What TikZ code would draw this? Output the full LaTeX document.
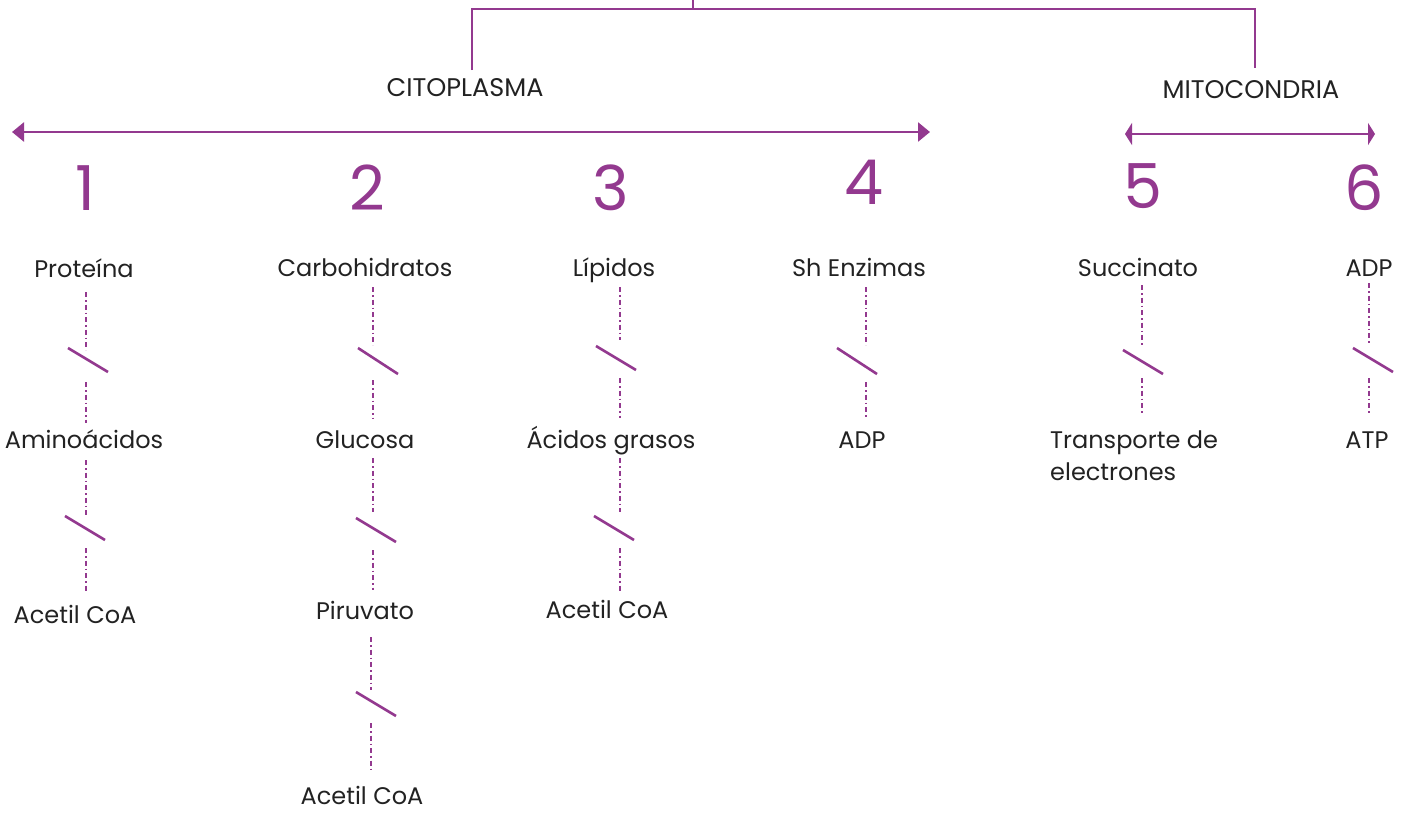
\documentclass[tikz,border=0pt]{standalone}
\usepackage{fontspec}
\setmainfont{Poppins}
\usetikzlibrary{arrows.meta}
\definecolor{purp}{HTML}{93398F}
\definecolor{txt}{HTML}{222222}
\tikzset{
  lbl/.style={inner sep=0pt, text=txt, font=\fontsize{24}{32}\selectfont, text height=0.72em, text depth=0.2em, yshift=-6pt},
  hdr/.style={inner sep=0pt, text=txt, font=\fontsize{25.5}{30}\selectfont, text height=0.72em, text depth=0.2em, yshift=-6pt},
  num/.style={inner sep=0pt, text=purp, font=\fontsize{62}{70}\selectfont},
  brk/.style={draw=purp, line width=2pt},
  dots/.style={draw=purp, line width=2.2pt, dash pattern=on 5pt off 3pt on 1.5pt off 3pt},
  slash/.style={draw=purp, line width=2.6pt},
  harrow/.style={draw=purp, line width=2.6pt, {Triangle[length=12pt,width=19pt]}-{Triangle[length=12pt,width=19pt]}},
  marrow/.style={draw=purp, line width=2.6pt, {Triangle[length=7pt,width=22pt]}-{Triangle[length=7pt,width=22pt]}}
}
\begin{document}
\begin{tikzpicture}[x=1pt,y=-1pt]
\useasboundingbox (0,0) rectangle (1407,812);
% top bracket
\coordinate (top) at (693,0);
\coordinate (tj) at (693,9);
\coordinate (bl) at (472,9);
\coordinate (br) at (1255,9);
\coordinate (blb) at (472,70);
\coordinate (brb) at (1255,68);
\draw[brk] (top) -- (tj);
\draw[brk] (blb) -- (bl) -- (br) -- (brb);
% headers
\node[hdr] (cito) at (465,88) {CITOPLASMA};
\node[hdr] (mito) at (1251,90) {MITOCONDRIA};
% range arrows
\coordinate (cl) at (12,132);
\coordinate (cr) at (930,132);
\draw[harrow] (cl) -- (cr);
\coordinate (ml) at (1125,134);
\coordinate (mr) at (1375,134);
\draw[marrow] (ml) -- (mr);
% numbers
\node[num] (n1) at (85,188) {1};
\node[num] (n2) at (367,188) {2};
\node[num] (n3) at (611,188) {3};
\node[num] (n4) at (864,182) {4};
\node[num] (n5) at (1143,186) {5};
\node[num] (n6) at (1364,188) {6};
% column 1
\node[lbl] (p1) at (84,269) {Proteína};
\node[lbl] (a1) at (84,440) {Aminoácidos};
\node[lbl] (c1) at (75,615) {Acetil CoA};
\coordinate (s1a) at (68,348); \coordinate (s1b) at (108,372);
\coordinate (s1c) at (65,516); \coordinate (s1d) at (105,540);
\draw[dots] (86,292) -- (86,350);
\draw[slash] (s1a) -- (s1b);
\draw[dots] (86,382) -- (86,423);
\draw[dots] (86,460) -- (86,515);
\draw[slash] (s1c) -- (s1d);
\draw[dots] (86,548) -- (86,591);
% column 2
\node[lbl] (p2) at (365,268) {Carbohidratos};
\node[lbl] (g2) at (365,440) {Glucosa};
\node[lbl] (r2) at (365,611) {Piruvato};
\node[lbl] (c2) at (362,796) {Acetil CoA};
\coordinate (s2a) at (358,348); \coordinate (s2b) at (398,374);
\coordinate (s2c) at (356,518); \coordinate (s2d) at (396,542);
\coordinate (s2e) at (356,692); \coordinate (s2f) at (396,716);
\draw[dots] (373,287) -- (373,345);
\draw[slash] (s2a) -- (s2b);
\draw[dots] (373,380) -- (373,418);
\draw[dots] (373,458) -- (373,512);
\draw[slash] (s2c) -- (s2d);
\draw[dots] (373,550) -- (373,590);
\draw[dots] (371,637) -- (371,690);
\draw[slash] (s2e) -- (s2f);
\draw[dots] (371,723) -- (371,770);
% column 3
\node[lbl] (l3) at (614,268) {Lípidos};
\node[lbl] (a3) at (611,440) {Ácidos grasos};
\node[lbl] (c3) at (607,610) {Acetil CoA};
\coordinate (s3a) at (596,346); \coordinate (s3b) at (636,370);
\coordinate (s3c) at (594,516); \coordinate (s3d) at (634,540);
\draw[dots] (620,287) -- (620,340);
\draw[slash] (s3a) -- (s3b);
\draw[dots] (620,378) -- (620,418);
\draw[dots] (620,458) -- (620,512);
\draw[slash] (s3c) -- (s3d);
\draw[dots] (620,548) -- (620,592);
% column 4
\node[lbl] (e4) at (859,268) {Sh Enzimas};
\node[lbl] (d4) at (862,440) {ADP};
\coordinate (s4a) at (837,348); \coordinate (s4b) at (877,374);
\draw[dots] (866,287) -- (866,345);
\draw[slash] (s4a) -- (s4b);
\draw[dots] (866,382) -- (866,418);
% column 5
\node[lbl] (s5) at (1138,268) {Succinato};
\node[inner sep=0pt, text=txt, anchor=west, align=left, font=\fontsize{24}{32}\selectfont] (t5) at (1050,456) {Transporte de\\electrones};
\coordinate (s5a) at (1123,350); \coordinate (s5b) at (1163,374);
\draw[dots] (1142,285) -- (1142,345);
\draw[slash] (s5a) -- (s5b);
\draw[dots] (1142,378) -- (1142,415);
% column 6
\node[lbl] (d6) at (1369,268) {ADP};
\node[lbl] (t6) at (1367,440) {ATP};
\coordinate (s6a) at (1353,348); \coordinate (s6b) at (1393,372);
\draw[dots] (1369,283) -- (1369,343);
\draw[slash] (s6a) -- (s6b);
\draw[dots] (1369,378) -- (1369,415);
\end{tikzpicture}
\end{document}
